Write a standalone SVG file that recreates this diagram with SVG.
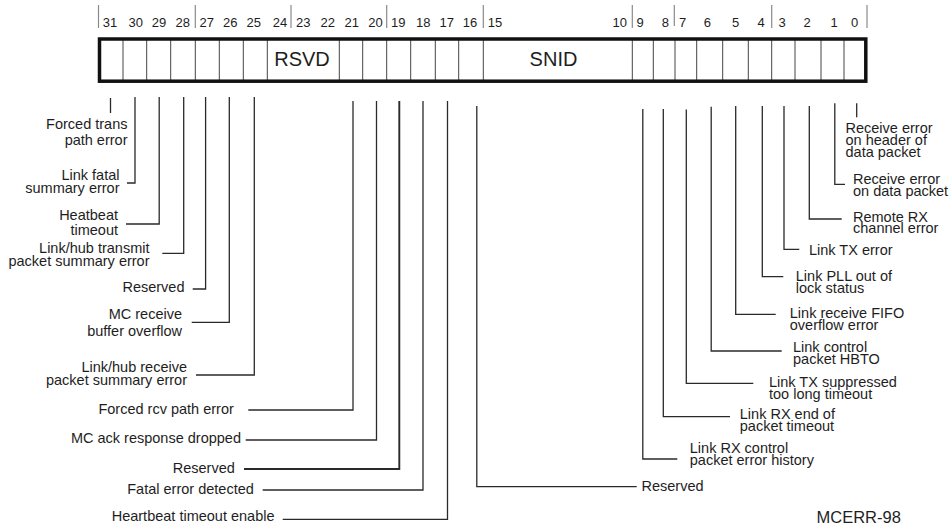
<svg xmlns="http://www.w3.org/2000/svg" width="951" height="529" viewBox="0 0 951 529">
<style>
  text { font-family: "Liberation Sans", Arial, sans-serif; fill: #1e1e1e; }
  .num { font-size: 13px; text-anchor: middle; }
  .field { font-size: 20px; text-anchor: middle; }
  .lbl { font-size: 14.5px; }
  .l { text-anchor: end; }
  .r { text-anchor: start; }
  .tick { stroke: #8a8a8a; stroke-width: 1.2; }
  .cell { stroke: #444; stroke-width: 1; }
  .conn path { fill: none; stroke: #2a2a2a; stroke-width: 1.3; }
</style>
<rect width="951" height="529" fill="#ffffff"/>

<g id="bit-numbers">
  <g id="ticks">
    <line class="tick" x1="98.5" y1="5" x2="98.5" y2="28"/>
    <line class="tick" x1="195.3" y1="5" x2="195.3" y2="28"/>
    <line class="tick" x1="291" y1="5" x2="291" y2="28"/>
    <line class="tick" x1="386.7" y1="5" x2="386.7" y2="28"/>
    <line class="tick" x1="483.3" y1="5" x2="483.3" y2="28"/>
    <line class="tick" x1="632.3" y1="5" x2="632.3" y2="28"/>
    <line class="tick" x1="674.3" y1="5" x2="674.3" y2="26"/>
    <line class="tick" x1="771.7" y1="5" x2="771.7" y2="28"/>
    <line class="tick" x1="867" y1="5" x2="867" y2="28"/>
  </g>
  <text class="num" x="110" y="26.5">31</text>
  <text class="num" x="135.8" y="26.5">30</text>
  <text class="num" x="159" y="26.5">29</text>
  <text class="num" x="182.7" y="26.5">28</text>
  <text class="num" x="206.7" y="26.5">27</text>
  <text class="num" x="230.3" y="26.5">26</text>
  <text class="num" x="253.8" y="26.5">25</text>
  <text class="num" x="280" y="26.5">24</text>
  <text class="num" x="303.3" y="26.5">23</text>
  <text class="num" x="327.8" y="26.5">22</text>
  <text class="num" x="351.7" y="26.5">21</text>
  <text class="num" x="375.5" y="26.5">20</text>
  <text class="num" x="398.3" y="26.5">19</text>
  <text class="num" x="423.3" y="26.5">18</text>
  <text class="num" x="446.7" y="26.5">17</text>
  <text class="num" x="470" y="26.5">16</text>
  <text class="num" x="495" y="26.5">15</text>
  <text class="num" x="619.7" y="26.5">10</text>
  <text class="num" x="640" y="26.5">9</text>
  <text class="num" x="665.3" y="26.5">8</text>
  <text class="num" x="682.7" y="26.5">7</text>
  <text class="num" x="707.3" y="26.5">6</text>
  <text class="num" x="735.5" y="26.5">5</text>
  <text class="num" x="761" y="26.5">4</text>
  <text class="num" x="782" y="26.5">3</text>
  <text class="num" x="807" y="26.5">2</text>
  <text class="num" x="834" y="26.5">1</text>
  <text class="num" x="854.7" y="26.5">0</text>
</g>

<g id="register">
  <g id="cells">
    <line class="cell" x1="123" y1="39" x2="123" y2="81"/>
    <line class="cell" x1="146.7" y1="39" x2="146.7" y2="81"/>
    <line class="cell" x1="170.7" y1="39" x2="170.7" y2="81"/>
    <line class="cell" x1="195.3" y1="39" x2="195.3" y2="81"/>
    <line class="cell" x1="219.3" y1="39" x2="219.3" y2="81"/>
    <line class="cell" x1="243.3" y1="39" x2="243.3" y2="81"/>
    <line class="cell" x1="267.3" y1="39" x2="267.3" y2="81"/>
    <line class="cell" x1="339.3" y1="39" x2="339.3" y2="81"/>
    <line class="cell" x1="362.7" y1="39" x2="362.7" y2="81"/>
    <line class="cell" x1="386.7" y1="39" x2="386.7" y2="81"/>
    <line class="cell" x1="410.7" y1="39" x2="410.7" y2="81"/>
    <line class="cell" x1="435.3" y1="39" x2="435.3" y2="81"/>
    <line class="cell" x1="458.7" y1="39" x2="458.7" y2="81"/>
    <line class="cell" x1="483.3" y1="39" x2="483.3" y2="81"/>
    <line class="cell" x1="632.3" y1="39" x2="632.3" y2="81"/>
    <line class="cell" x1="653.3" y1="39" x2="653.3" y2="81"/>
    <line class="cell" x1="675" y1="39" x2="675" y2="81"/>
    <line class="cell" x1="696.7" y1="39" x2="696.7" y2="81"/>
    <line class="cell" x1="722.7" y1="39" x2="722.7" y2="81"/>
    <line class="cell" x1="748.3" y1="39" x2="748.3" y2="81"/>
    <line class="cell" x1="771.7" y1="39" x2="771.7" y2="81"/>
    <line class="cell" x1="795" y1="39" x2="795" y2="81"/>
    <line class="cell" x1="821" y1="39" x2="821" y2="81"/>
    <line class="cell" x1="844" y1="39" x2="844" y2="81"/>
  </g>
  <rect x="99.5" y="39" width="766.3" height="42.2" fill="none" stroke="#111" stroke-width="3.5"/>
  <text class="field" x="302" y="66">RSVD</text>
  <text class="field" x="553.5" y="66">SNID</text>
</g>

<g id="connectors" class="conn">
  <path d="M110.5 98 V113"/>
  <path d="M135 97 V183 H127"/>
  <path d="M159.2 97 V224 H126"/>
  <path d="M183.7 97 V253.3 H162.3"/>
  <path d="M205.6 97 V289 H192.7"/>
  <path d="M229.3 97 V322.3 H191.7"/>
  <path d="M254.3 97 V375 H196"/>
  <path d="M353 101 V410 H248.3"/>
  <path d="M376.5 101 V440 H245.7"/>
  <path d="M399.3 101 V469 H244" style="stroke-width:1.9"/>
  <path d="M423 101 V490 H262.7"/>
  <path d="M447.5 101 V519.3 H282.7"/>
  <path d="M476.8 106 V486.7 H636.7"/>
  <path d="M642.8 109 V459 H677.3"/>
  <path d="M663.3 109 V416.7 H730"/>
  <path d="M686.3 109.5 V383.3 H753.3"/>
  <path d="M711.2 106.7 V351 H781.7"/>
  <path d="M735.7 106 V314.3 H775.7"/>
  <path d="M762.3 106 V276.7 H783.3"/>
  <path d="M784 106 V249.3 H799.3"/>
  <path d="M809.3 106 V219 H841.7"/>
  <path d="M834.8 103.3 V184.3 H845"/>
  <path d="M856.7 103.3 V117.3"/>
</g>

<g id="bit31"><text class="lbl l" x="127.5" y="129.3">Forced trans</text><text class="lbl l" x="127.5" y="145">path error</text></g>
<g id="bit30"><text class="lbl l" x="119.5" y="180">Link fatal</text><text class="lbl l" x="119.5" y="193">summary error</text></g>
<g id="bit29"><text class="lbl l" x="118" y="220">Heatbeat</text><text class="lbl l" x="118" y="235">timeout</text></g>
<g id="bit28"><text class="lbl l" x="149.5" y="253.3">Link/hub transmit</text><text class="lbl l" x="149.5" y="265.5">packet summary error</text></g>
<g id="bit27"><text class="lbl l" x="184.5" y="291.7">Reserved</text></g>
<g id="bit26"><text class="lbl l" x="182" y="319">MC receive</text><text class="lbl l" x="182" y="335.5">buffer overflow</text></g>
<g id="bit25"><text class="lbl l" x="187" y="372">Link/hub receive</text><text class="lbl l" x="187" y="384.5">packet summary error</text></g>
<g id="bit21"><text class="lbl l" x="233.8" y="414">Forced rcv path error</text></g>
<g id="bit20"><text class="lbl l" x="241" y="443">MC ack response dropped</text></g>
<g id="bit19"><text class="lbl l" x="234.8" y="472.5">Reserved</text></g>
<g id="bit18"><text class="lbl l" x="253.8" y="494">Fatal error detected</text></g>
<g id="bit17"><text class="lbl l" x="274.5" y="520.5">Heartbeat timeout enable</text></g>
<g id="bit16"><text class="lbl r" x="641.5" y="490.7">Reserved</text></g>

<g id="bit0"><text class="lbl r" x="845.5" y="133">Receive error</text><text class="lbl r" x="845.5" y="144.7">on header of</text><text class="lbl r" x="845.5" y="156.5">data packet</text></g>
<g id="bit1"><text class="lbl r" x="853" y="184">Receive error</text><text class="lbl r" x="853" y="196">on data packet</text></g>
<g id="bit2"><text class="lbl r" x="853" y="221.7">Remote RX</text><text class="lbl r" x="853" y="232.7">channel error</text></g>
<g id="bit3"><text class="lbl r" x="809" y="255">Link TX error</text></g>
<g id="bit4"><text class="lbl r" x="795.8" y="280.7">Link PLL out of</text><text class="lbl r" x="795.8" y="292.7">lock status</text></g>
<g id="bit5"><text class="lbl r" x="789.8" y="318.3">Link receive FIFO</text><text class="lbl r" x="789.8" y="330.3">overflow error</text></g>
<g id="bit6"><text class="lbl r" x="793" y="352.3">Link control</text><text class="lbl r" x="793" y="364.3">packet HBTO</text></g>
<g id="bit7"><text class="lbl r" x="769" y="387.3">Link TX suppressed</text><text class="lbl r" x="769" y="399.3">too long timeout</text></g>
<g id="bit8"><text class="lbl r" x="739.8" y="419.3">Link RX end of</text><text class="lbl r" x="739.8" y="431.3">packet timeout</text></g>
<g id="bit9"><text class="lbl r" x="689.8" y="452.7">Link RX control</text><text class="lbl r" x="689.8" y="464.7">packet error history</text></g>

<text x="816.5" y="523.3" style="font-size:16.5px">MCERR-98</text>
</svg>
